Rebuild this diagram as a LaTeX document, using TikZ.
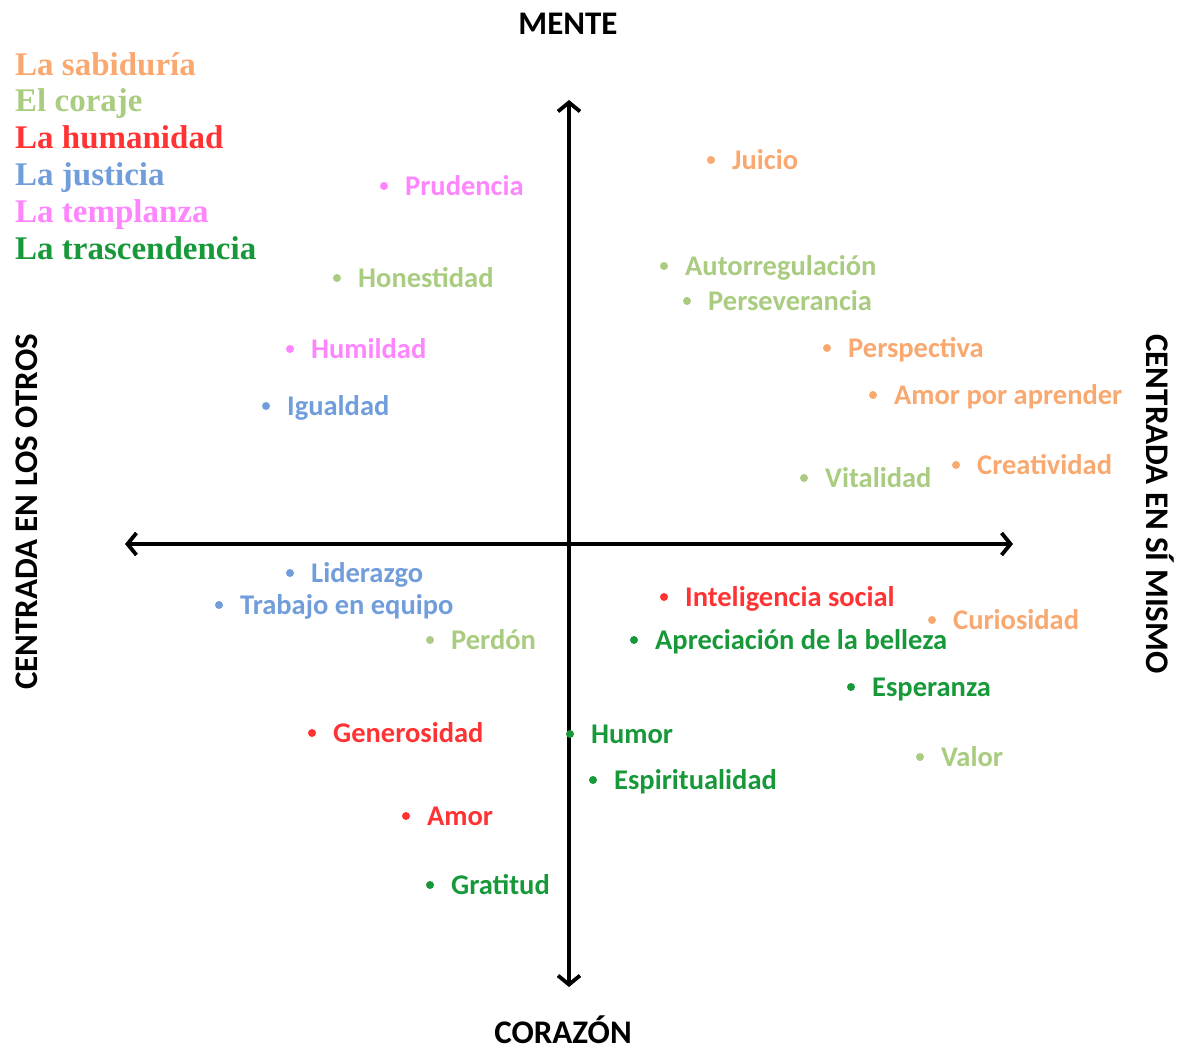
\documentclass[tikz,border=0pt]{standalone}
\usepackage{fontspec}
\setmainfont{Carlito}
\newfontfamily\legfont{Liberation Serif}
\usetikzlibrary{arrows.meta}
\definecolor{cOra}{HTML}{F9A86F}
\definecolor{cLgr}{HTML}{A9CC80}
\definecolor{cRed}{HTML}{FF3333}
\definecolor{cBlu}{HTML}{719EDA}
\definecolor{cPnk}{HTML}{FF85FF}
\definecolor{cGrn}{HTML}{17993A}
\tikzset{
  axis/.style={line width=3.8pt, {Straight Barb[length=9pt,width=22pt,line width=3.8pt]}-{Straight Barb[length=9pt,width=22pt,line width=3.8pt]}},
  dotn/.style={circle, fill=#1, inner sep=0pt, minimum size=8pt},
  lbl/.style={anchor=base west, inner sep=0pt, text=#1, font=\fontsize{28.5}{30}\selectfont\bfseries},
  title/.style={inner sep=0pt, font=\fontsize{33}{36}\selectfont\bfseries},
  leg/.style={anchor=base west, inner sep=0pt, text=#1, font=\fontsize{33}{36}\legfont\bfseries},
}
\newcommand\virtue[5]{%
  \node[dotn=#4] (d#1) at (#2,#3) {};
  \node[lbl=#4] (t#1) at (#2+21,#3+9) {#5};
}
\begin{document}
\begin{tikzpicture}[x=1pt,y=-1pt]
\useasboundingbox[fill=white] (0,0) rectangle (1183,1049);
% axes
\coordinate (top) at (569,100);
\coordinate (bot) at (569,987);
\coordinate (lft) at (125,544);
\coordinate (rgt) at (1013,544);
\draw[axis] (bot) -- (top);
\draw[axis] (lft) -- (rgt);
% titles
\node[title, anchor=base] (mente) at (568,35) {MENTE};
\node[title, anchor=base] (corazon) at (563,1043) {CORAZÓN};
\node[title, rotate=90] (otros) at (27,512) {CENTRADA EN LOS OTROS};
\node[title, rotate=-90] (simismo) at (1160,504) {CENTRADA EN SÍ MISMO};
% legend
\node[leg=cOra] (l1) at (15,75) {La sabiduría};
\node[leg=cLgr] (l2) at (15,111) {El coraje};
\node[leg=cRed] (l3) at (15,148) {La humanidad};
\node[leg=cBlu] (l4) at (15,185) {La justicia};
\node[leg=cPnk] (l5) at (15,222) {La templanza};
\node[leg=cGrn] (l6) at (15,259) {La trascendencia};
% virtues
\virtue{a}{711}{160}{cOra}{Juicio}
\virtue{b}{384}{186}{cPnk}{Prudencia}
\virtue{c}{337}{278}{cLgr}{Honestidad}
\virtue{d}{664}{266}{cLgr}{Autorregulación}
\virtue{e}{687}{301}{cLgr}{Perseverancia}
\virtue{f}{827}{348}{cOra}{Perspectiva}
\virtue{g}{290}{349}{cPnk}{Humildad}
\virtue{h}{873}{395}{cOra}{Amor por aprender}
\virtue{i}{266}{406}{cBlu}{Igualdad}
\virtue{j}{956}{465}{cOra}{Creatividad}
\virtue{k}{804}{478}{cLgr}{Vitalidad}
\virtue{l}{290}{573}{cBlu}{Liderazgo}
\virtue{m}{219}{605}{cBlu}{Trabajo en equipo}
\virtue{n}{430}{640}{cLgr}{Perdón}
\virtue{o}{664}{597}{cRed}{Inteligencia social}
\virtue{p}{932}{620}{cOra}{Curiosidad}
\virtue{q}{634}{640}{cGrn}{Apreciación de la belleza}
\virtue{r}{851}{687}{cGrn}{Esperanza}
\virtue{s}{312}{733}{cRed}{Generosidad}
\virtue{t}{570}{734}{cGrn}{Humor}
\virtue{u}{920}{757}{cLgr}{Valor}
\virtue{v}{593}{780}{cGrn}{Espiritualidad}
\virtue{w}{406}{816}{cRed}{Amor}
\virtue{x}{430}{885}{cGrn}{Gratitud}
\end{tikzpicture}
\end{document}
